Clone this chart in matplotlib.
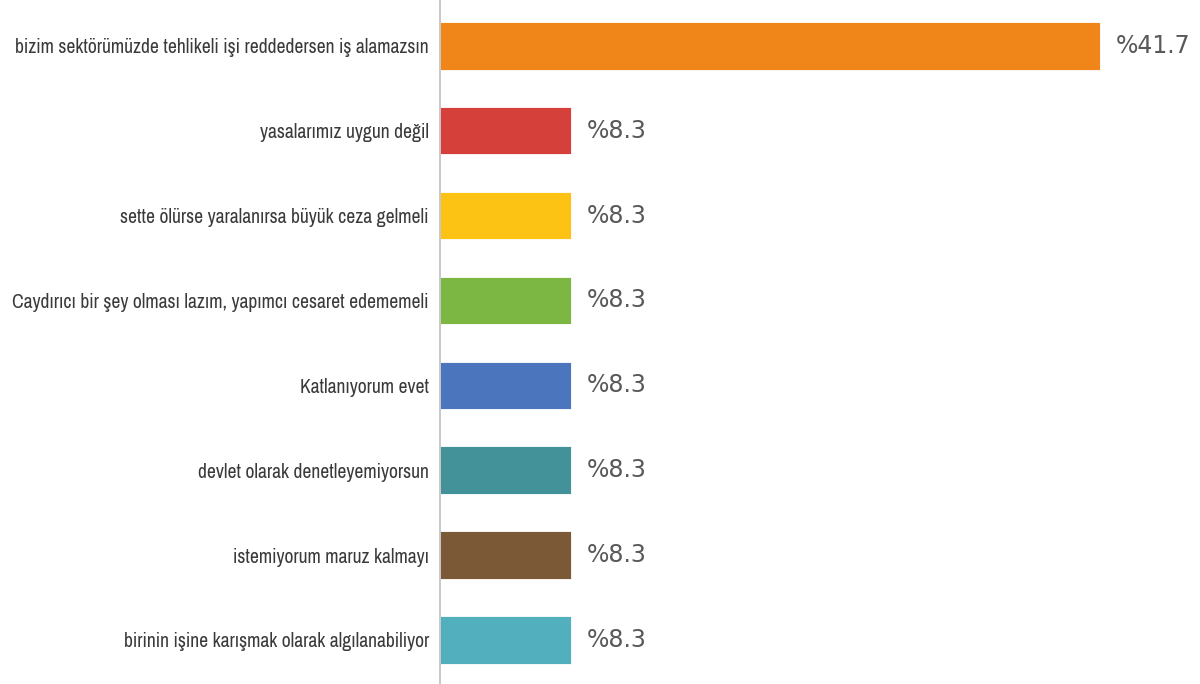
import matplotlib.pyplot as plt
from matplotlib import font_manager as fm

labels = [
    "bizim sektörümüzde tehlikeli işi reddedersen iş alamazsın",
    "yasalarımız uygun değil",
    "sette ölürse yaralanırsa büyük ceza gelmeli",
    "Caydırıcı bir şey olması lazım, yapımcı cesaret edememeli",
    "Katlanıyorum evet",
    "devlet olarak denetleyemiyorsun",
    "istemiyorum maruz kalmayı",
    "birinin işine karışmak olarak algılanabiliyor",
]
values = [41.7, 8.3, 8.3, 8.3, 8.3, 8.3, 8.3, 8.3]
colors = ["#F0861A", "#D6403B", "#FDC314", "#7DB743",
          "#4B76BD", "#43929A", "#7B5836", "#52AFBE"]

# narrow font if present, else a smaller regular one
installed = {f.name for f in fm.fontManager.ttflist}
if "Archivo Narrow" in installed:
    lab_font, lab_size = ["Archivo Narrow", "DejaVu Sans"], 14.1
else:
    lab_font, lab_size = ["Liberation Sans", "DejaVu Sans"], 11.5

fig = plt.figure(figsize=(12, 6.84), dpi=100)
ax = fig.add_axes([440 / 1200, 0, 1 - 440 / 1200, 1])

y = list(range(len(labels)))
ax.barh(y, values, height=0.56, color=colors, edgecolor="white", linewidth=0.6)

for yi, v in zip(y, values):
    ax.annotate("%" + str(v), xy=(v, yi), xytext=(11, 0), textcoords="offset points",
                va="center", ha="left", fontsize=17, color="#595959",
                family="DejaVu Sans")

ax.set_xlim(0, 48)
ax.set_ylim(len(labels) - 1 + 0.52, -0.54)
ax.set_yticks(y)
ax.set_yticklabels(labels, fontsize=lab_size, color="#3A3A3A", family=lab_font)
ax.tick_params(axis="y", length=0, pad=8)
ax.set_xticks([])
for s in ["top", "right", "bottom"]:
    ax.spines[s].set_visible(False)
ax.spines["left"].set_color("#BFBFBF")
ax.spines["left"].set_linewidth(1.2)

plt.savefig("out.png", dpi=100)
